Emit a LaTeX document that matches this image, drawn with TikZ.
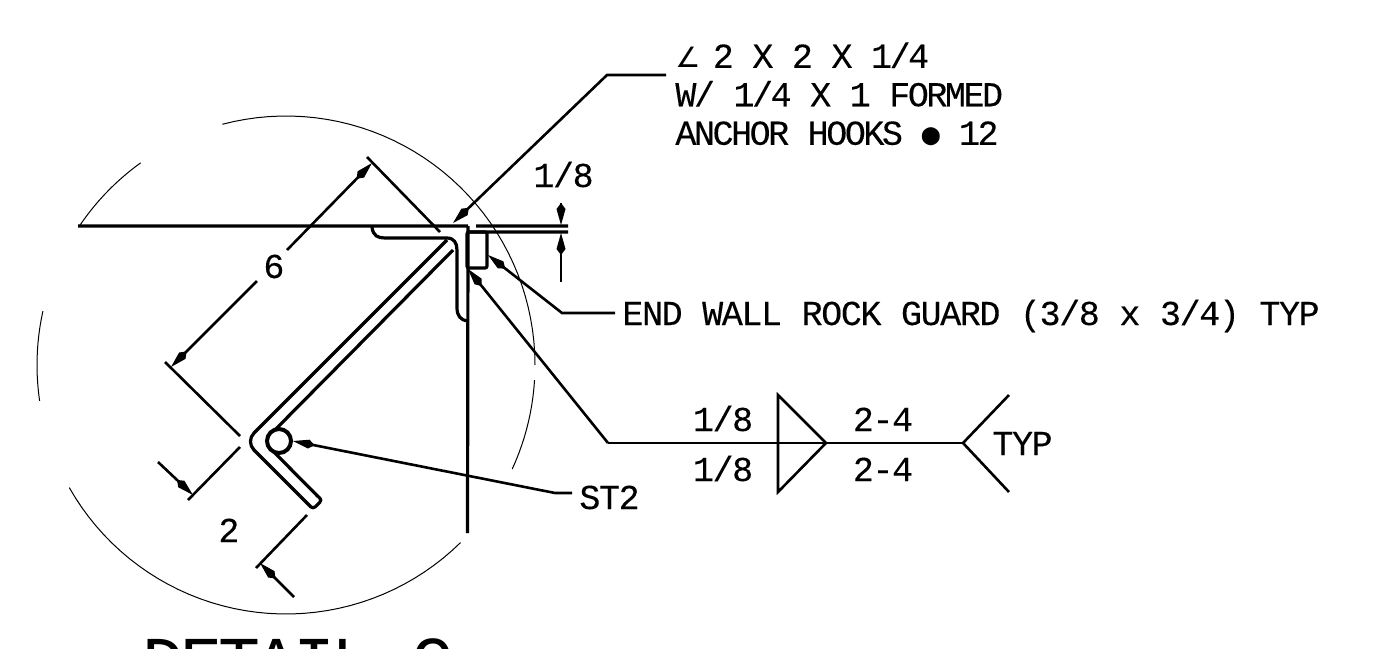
\documentclass[tikz,border=0pt]{standalone}
\usepackage{fontspec}
\setmainfont[LetterSpace=-4,FakeBold=0.2]{Liberation Mono}
\newfontfamily\symbfont{DejaVu Sans}
\newfontfamily\dotfont{DejaVu Sans Mono}
\newfontfamily\titlefont[LetterSpace=-6]{Liberation Mono}
\usetikzlibrary{arrows.meta}
\newcommand{\CADfont}{\fontsize{17.5}{19.25}\selectfont}
\newcommand{\DETangle}{\makebox[9.45pt][l]{\symbfont\fontsize{14}{14}\selectfont ∠}}
\newcommand{\DETat}{\makebox[9.45pt][c]{\dotfont\fontsize{15}{15}\selectfont ●}}
\tikzstyle{every picture}=[x=0.5pt,y=-0.5pt]
\tikzstyle{thick line}=[line width=1.6pt]
\tikzstyle{sketch}=[line width=0.5pt]
\tikzstyle{lead}=[line width=1.3pt,-{Kite[length=11pt,width=4.5pt,inset=3pt]}]
\tikzstyle{plain}=[line width=1.3pt]
\tikzstyle{lbl}=[font=\CADfont,inner sep=0,anchor=base west]
\tikzstyle{wlbl}=[font=\CADfont,inner sep=0,anchor=base]

\begin{document}
\begin{tikzpicture}
\useasboundingbox (0,0) rectangle (1385,648);

% detail circle, broken in five
\coordinate (c) at (286,365);
\draw[sketch] plot[domain=214:234.3,samples=12] ({286+249*cos(\x)},{365+249*sin(\x)});
\draw[sketch] plot[domain=255.2:360,samples=40] ({286+249*cos(\x)},{365+249*sin(\x)});
\draw[sketch] plot[domain=3.5:24.7,samples=12] ({286+249*cos(\x)},{365+249*sin(\x)});
\draw[sketch] plot[domain=45.5:150.5,samples=40] ({286+249*cos(\x)},{365+249*sin(\x)});
\draw[sketch] plot[domain=171.7:192.5,samples=12] ({286+249*cos(\x)},{365+249*sin(\x)});

% wall and angle
\coordinate (w0) at (78,226);
\coordinate (w1) at (468,226);
\coordinate (w2) at (476,226);
\coordinate (t1) at (568,226);
\coordinate (w3) at (467,232);
\coordinate (t2) at (568,232);
\coordinate (wb) at (467.5,533);
\draw[thick line] (w0) -- (w1) (w2) -- (t1) (w3) -- (t2) (w1) -- (wb);
\draw[thick line] (372,227) .. controls (373,236) and (378,238) .. (385,238) -- (447,238)
  .. controls (454,238) and (457,243) .. (457,250) -- (457,308)
  .. controls (457,316) and (461,320) .. (467,321);
\node[draw,thick line,rounded corners=1pt,inner sep=0,minimum width=10pt,minimum height=18pt] (guard) at (477,250) {};

% bent plate and bar
\draw[thick line,rounded corners=6pt] (453,250) -- (263.5,441.5) -- (318,496.5);
\draw[thick line,rounded corners=1.5pt] (318,496.5) -- (322,500) -- (313,509) -- (300,496);
\draw[thick line,rounded corners=6pt] (300,496) -- (245.5,441.5) -- (447,240);
\node[draw,circle,fill=white,line width=2pt,minimum size=12pt,inner sep=0] (bar) at (279,441) {};

% dimensions
\coordinate (e1a) at (367,157);
\coordinate (e1b) at (440,232);
\coordinate (e2a) at (165,362);
\coordinate (e2b) at (240,436);
\coordinate (e3a) at (240,447);
\coordinate (e3b) at (188,500);
\coordinate (e4a) at (307,515);
\coordinate (e4b) at (256,568);
\draw[plain] (e1a) -- (e1b) (e2a) -- (e2b) (e3a) -- (e3b) (e4a) -- (e4b);
\node[lbl] (six) at (263,278) {6};
\node[lbl] (two) at (218,542) {2};
\draw[lead] (287,250) -- (372,163);
\draw[lead] (257,281) -- (171,367);
\draw[lead] (158,462) -- (193,495);
\draw[lead] (294,597) -- (260,563);
\draw[lead] (561,282) -- (561,233);
\draw[lead] (561,203) -- (561,225);
\node[lbl] (gap) at (533,187) {1/8};

% leaders
\node[lbl,align=left,anchor=north west,font=\CADfont\addfontfeature{LetterSpace=-7}] (hooks) at (675,42) {\DETangle{} 2 X 2 X 1/4\\W/ 1/4 X 1 FORMED\\ANCHOR HOOKS \DETat{} 12};
\node[lbl] (rock) at (622,325) {END WALL ROCK GUARD (3/8 x 3/4) TYP};
\node[lbl] (st) at (579,509) {ST2};
\coordinate (h1) at (607,75);
\coordinate (h2) at (666,75);
\coordinate (r1) at (562,313);
\coordinate (r2) at (615,313);
\coordinate (s1) at (555,493);
\coordinate (s2) at (572,493);
\coordinate (f1) at (608,443);
\draw[lead] (h2) -- (h1) -- (453,223);
\draw[lead] (r2) -- (r1) -- (488,255);
\draw[lead] (s2) -- (s1) -- (bar.east);
\draw[lead] (f1) -- (468,269);

% weld symbol
\coordinate (f2) at (778,443);
\coordinate (ta) at (778,395);
\coordinate (tb) at (778,492);
\coordinate (tc) at (826,443);
\coordinate (y0) at (963,443);
\coordinate (y1) at (1009,395);
\coordinate (y2) at (1009,492);
\draw[plain] (f1) -- (f2);
\draw[plain] (ta) -- (tc) -- (tb) -- cycle;
\draw[plain] (f2) -- (tc) -- (y0);
\draw[plain] (y1) -- (y0) -- (y2);
\node[wlbl] (wa) at (723,431) {1/8};
\node[wlbl] (wb) at (723,481) {1/8};
\node[wlbl] (wc) at (883,431) {2-4};
\node[wlbl] (wd) at (883,481) {2-4};
\node[lbl] (typ) at (992,455) {TYP};

\node[lbl,font=\titlefont\fontsize{35}{38}\selectfont] (title) at (142,685) {DETAIL G};
\end{tikzpicture}
\end{document}
